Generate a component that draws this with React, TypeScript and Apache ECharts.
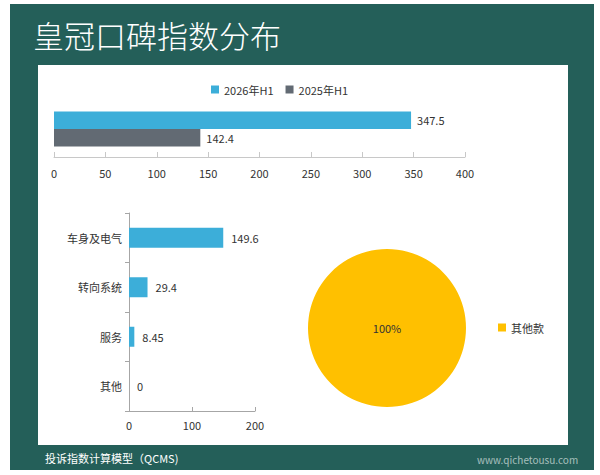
import React, { useEffect, useRef } from "react";
import * as echarts from "echarts";

const topSeriesNames = ["2026年H1", "2025年H1"];
const topValues = [347.5, 142.4];
const topTicks = { min: 0, max: 400, interval: 50 };

const partCategories = ["车身及电气", "转向系统", "服务", "其他"];
const partValues = [149.6, 29.4, 8.45, 0];
const partTicks = { min: 0, max: 200, interval: 100 };

const pieNames = ["其他款"];
const pieValues = [1];

const titleText = "皇冠口碑指数分布";
const footerText = "投诉指数计算模型（QCMS)";
const watermarkText = "www.qichetousu.com";

const GREEN = "#245f59";
const BLUE = "#3caed9";
const GRAY = "#626a73";
const GOLD = "#ffc000";
const FONT = "'Noto Sans CJK SC', 'Noto Sans', sans-serif";

export default function App() {
  const ref = useRef<HTMLDivElement>(null);
  useEffect(() => {
    if (!ref.current) return;
    const chart = echarts.init(ref.current, undefined, { renderer: "svg" });
    chart.setOption({
      animation: false,
      backgroundColor: "#ffffff",
      textStyle: { fontFamily: FONT },
      graphic: [
        { type: "rect", z: -10, shape: { x: 10, y: 4, width: 584, height: 466 }, style: { fill: GREEN } },
        { type: "rect", z: -9, shape: { x: 38, y: 65, width: 530, height: 380 }, style: { fill: "#ffffff" } },
        {
          type: "text", x: 33, y: 19,
          style: { text: titleText, fill: "#ffffff", font: `300 31px ${FONT}` },
        },
        {
          type: "text", x: 45, y: 452,
          style: { text: footerText, fill: "#ffffff", font: `11px ${FONT}` },
        },
        {
          type: "text", x: 477, y: 454,
          style: { text: watermarkText, fill: "rgba(255,255,255,0.6)", font: `10px ${FONT}` },
        },
      ],
      legend: [
        {
          data: topSeriesNames,
          left: 206,
          top: 79,
          itemWidth: 8,
          itemHeight: 8,
          itemGap: 12,
          icon: "rect",
          textStyle: { fontSize: 11, color: "#333", fontFamily: FONT },
        },
        {
          data: pieNames,
          left: 493,
          top: 317,
          itemWidth: 8,
          itemHeight: 8,
          icon: "rect",
          textStyle: { fontSize: 11, color: "#333", fontFamily: FONT },
        },
      ],
      grid: [
        { left: 54, right: 135, top: 101, height: 56, containLabel: false },
        { left: 129, right: 345, top: 213, height: 198, containLabel: false },
      ],
      xAxis: [
        {
          gridIndex: 0,
          type: "value",
          min: topTicks.min,
          max: topTicks.max,
          interval: topTicks.interval,
          axisLine: { show: true, lineStyle: { color: "#c8c8c8" } },
          axisTick: { show: true, inside: true, length: 5, lineStyle: { color: "#c8c8c8" } },
          axisLabel: { color: "#333", fontSize: 11, margin: 10 },
          splitLine: { show: false },
        },
        {
          gridIndex: 1,
          type: "value",
          min: partTicks.min,
          max: partTicks.max,
          interval: partTicks.interval,
          axisLine: { show: true, lineStyle: { color: "#a6a6a6" } },
          axisTick: { show: true, inside: true, length: 4, lineStyle: { color: "#a6a6a6" } },
          axisLabel: { color: "#333", fontSize: 11, margin: 8 },
          splitLine: { show: false },
        },
      ],
      yAxis: [
        {
          gridIndex: 0,
          type: "category",
          data: [""],
          show: false,
        },
        {
          gridIndex: 1,
          type: "category",
          data: partCategories,
          inverse: true,
          axisLine: { show: true, lineStyle: { color: "#a6a6a6" } },
          axisTick: { show: true, length: 4, lineStyle: { color: "#a6a6a6" } },
          axisLabel: { color: "#333", fontSize: 11, margin: 7 },
        },
      ],
      series: [
        {
          name: topSeriesNames[0],
          type: "bar",
          xAxisIndex: 0,
          yAxisIndex: 0,
          data: [topValues[0]],
          barWidth: 17.5,
          barGap: "0%",
          itemStyle: { color: BLUE },
          label: { show: true, position: "right", color: "#333", fontSize: 11, distance: 6 },
        },
        {
          name: topSeriesNames[1],
          type: "bar",
          xAxisIndex: 0,
          yAxisIndex: 0,
          data: [topValues[1]],
          barWidth: 17.5,
          barGap: "0%",
          itemStyle: { color: GRAY },
          label: { show: true, position: "right", color: "#333", fontSize: 11, distance: 6 },
        },
        {
          name: "部件",
          type: "bar",
          xAxisIndex: 1,
          yAxisIndex: 1,
          data: partValues,
          barWidth: 20,
          itemStyle: { color: BLUE },
          label: { show: true, position: "right", color: "#333", fontSize: 11, distance: 8 },
        },
        {
          type: "pie",
          center: [387, 328],
          radius: 79,
          data: pieNames.map((n, i) => ({ name: n, value: pieValues[i] })),
          itemStyle: { color: GOLD },
          label: { show: true, position: "center", formatter: "{d}%", color: "#333", fontSize: 11 },
          labelLine: { show: false },
          emphasis: { disabled: true },
        },
      ],
    });
    return () => chart.dispose();
  }, []);
  return (
    <div
      ref={ref}
      style={{ position: "fixed", left: 0, top: 0, width: 600, height: 475 }}
    />
  );
}
